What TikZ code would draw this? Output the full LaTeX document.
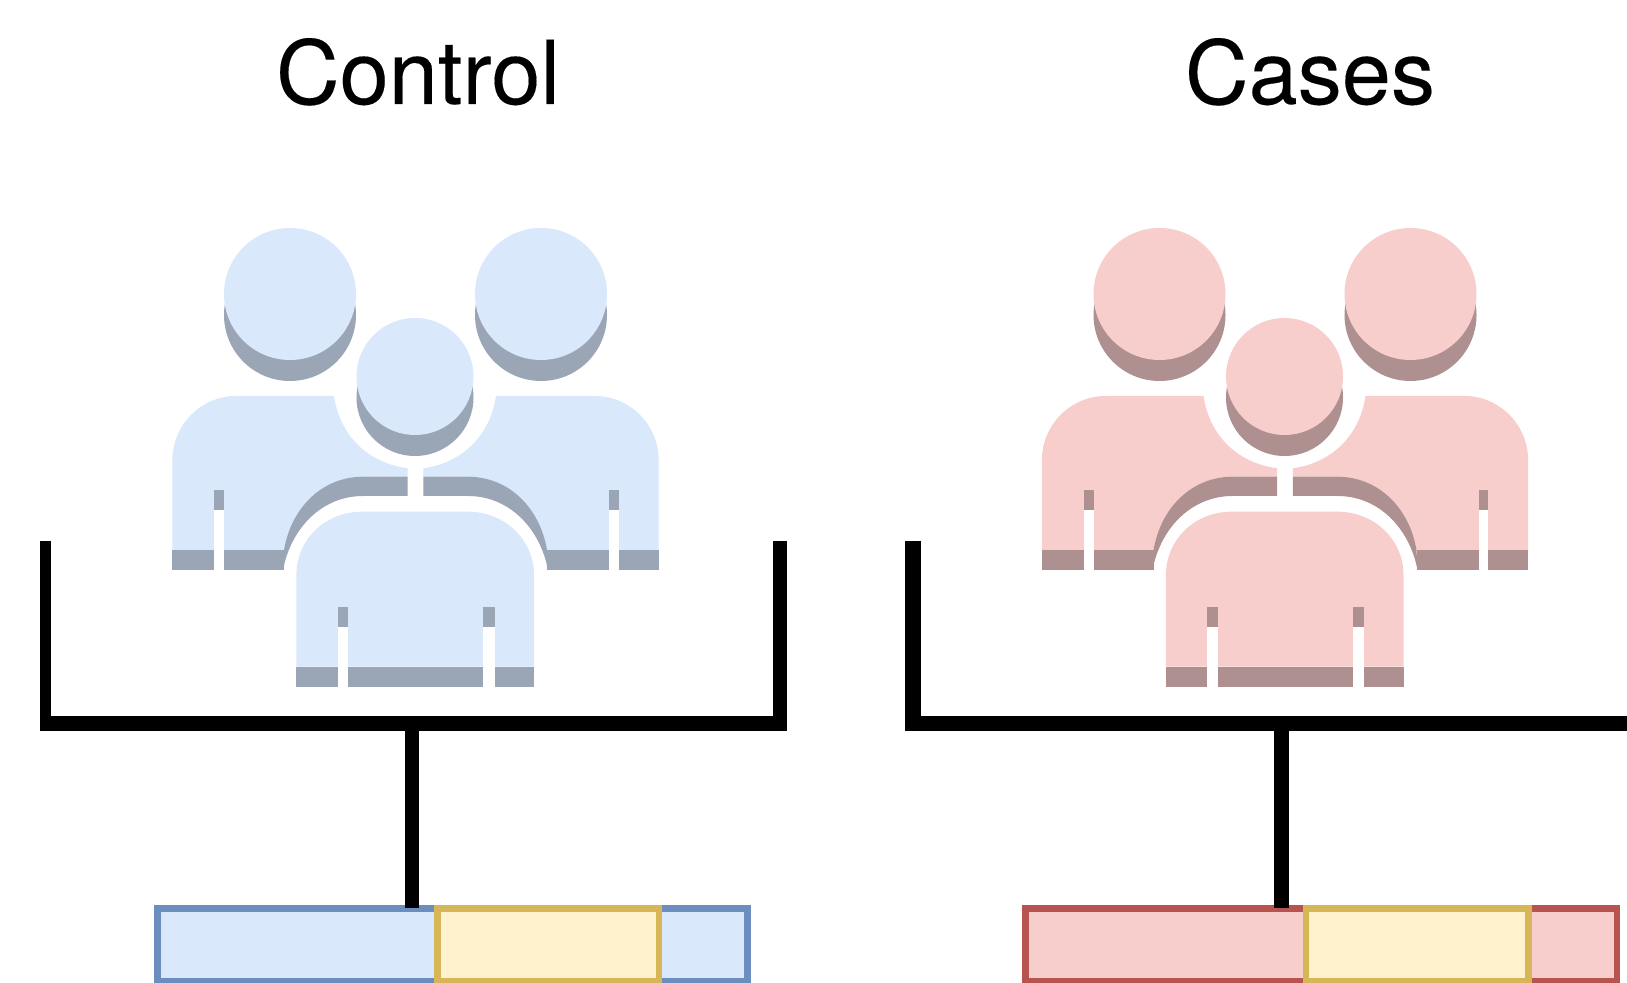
\documentclass[tikz,border=0pt]{standalone}
\usepackage{fontspec}
\setmainfont[FakeBold=0.15]{TeX Gyre Heros}
\newcommand{\peopleicon}[3]{%
% #1 xshift, #2 light, #3 shadow
\begin{scope}[xshift=#1]
  % heads
  \fill[#3] (290,315) circle[radius=66];
  \fill[#2] (290,294) circle[radius=66];
  \fill[#3] (541,315) circle[radius=66];
  \fill[#2] (541,294) circle[radius=66];
  \fill[#3] (415,397.5) circle[radius=58.5];
  \fill[#2] (415,376.5) circle[radius=58.5];
  % left back body
  \fill[#2] (172.4,550) -- (172.4,460) .. controls (172.4,425) and (201,396) .. (236,396)
    -- (334,396) .. controls (340,436) and (368,463) .. (407.6,468.3)
    -- (407.6,476.7) -- (363,476.7) .. controls (322,476.7) and (291,508) .. (284,550) -- cycle;
  \fill[#3] (407.6,476.7) -- (407.6,496) -- (363,496) .. controls (322,496) and (291,528) .. (283,570)
    -- (284,550) .. controls (291,508) and (322,476.7) .. (363,476.7) -- cycle;
  \fill[#3] (172.4,550) rectangle (214,570);
  \fill[#3] (224,550) rectangle (284,570);
  \fill[#3] (214,490) rectangle (224,510);
  \fill[white] (214,510) rectangle (224,570);
  % right back body
  \fill[#2] (658.6,550) -- (658.6,460) .. controls (658.6,425) and (630,396) .. (595,396)
    -- (496,396) .. controls (490,436) and (462,463) .. (423.4,468.3)
    -- (423.4,476.7) -- (468,476.7) .. controls (509,476.7) and (540,508) .. (547,550) -- cycle;
  \fill[#3] (423.4,476.7) -- (423.4,496) -- (468,496) .. controls (509,496) and (540,528) .. (548,570)
    -- (547,550) .. controls (540,508) and (509,476.7) .. (468,476.7) -- cycle;
  \fill[#3] (547,550) rectangle (609,570);
  \fill[#3] (618.7,550) rectangle (658.6,570);
  \fill[#3] (609,490) rectangle (618.7,510);
  \fill[white] (609,510) rectangle (618.7,570);
  % front body
  \fill[#2] (296.4,666.7) -- (296.4,575) .. controls (296.4,540) and (325,511.7) .. (362,511.7)
    -- (468,511.7) .. controls (505,511.7) and (534,540) .. (534,575) -- (534,666.7) -- cycle;
  \fill[#3] (296.4,666.7) rectangle (337.7,686.7);
  \fill[#3] (348.3,666.7) rectangle (483.3,686.7);
  \fill[#3] (494.8,666.7) rectangle (534,686.7);
  \fill[#3] (337.7,607.3) rectangle (348.3,627.3);
  \fill[#3] (483.3,607.3) rectangle (494.8,627.3);
  \fill[white] (337.7,627.3) rectangle (348.3,686.7);
  \fill[white] (483.3,627.3) rectangle (494.8,686.7);
\end{scope}}
\definecolor{lblue}{HTML}{DAE8FC}
\definecolor{sblue}{HTML}{9AA5B6}
\definecolor{bblue}{HTML}{6C8EBF}
\definecolor{lred}{HTML}{F8CECC}
\definecolor{sred}{HTML}{AF9090}
\definecolor{bred}{HTML}{B85450}
\definecolor{lyel}{HTML}{FFF2CC}
\definecolor{byel}{HTML}{D6B656}
\tikzset{
  title/.style={font=\fontsize{25.1pt}{28pt}\selectfont, anchor=base, inner sep=0},
  barbox/.style={draw, line width=0.066cm, inner sep=0, outer sep=0, minimum height=0.73cm},
  brace/.style={draw=black, line cap=butt},
}
\begin{document}
\begin{tikzpicture}[x=0.01cm,y=-0.01cm]
\useasboundingbox (0,0) rectangle (1627,983);
\fill[white] (0,0) rectangle (1627,983);
\node[title] (tctrl) at (418,104) {Control};
\node[title] (tcase) at (1310,104) {Cases};
\peopleicon{0cm}{lblue}{sblue}
\peopleicon{8.69cm}{lred}{sred}
% bottom boxes
\node[barbox, draw=bblue, fill=lblue, minimum width=5.9cm] (cbar) at (452.5,945) {};
\node[barbox, draw=byel, fill=lyel, minimum width=2.213cm] (cyel) at (548.3,945) {};
\node[barbox, draw=bred, fill=lred, minimum width=5.91cm] (rbar) at (1321.4,945) {};
\node[barbox, draw=byel, fill=lyel, minimum width=2.227cm] (ryel) at (1417.3,945) {};
% brackets
\coordinate (cl) at (45.4,540.6);
\coordinate (cr) at (780.2,540.6);
\coordinate (cbl) at (39.8,723.2);
\coordinate (cbr) at (787,723.2);
\coordinate (cs) at (411.8,723.2);
\draw[brace, line width=0.112cm] (cl) -- (cl |- cbl);
\draw[brace, line width=0.14cm] (cr) -- (cr |- cbr);
\draw[brace, line width=0.15cm] (cbl) -- (cbr);
\draw[brace, line width=0.145cm] (cs) -- (cs |- cbar.north);
\coordinate (rl) at (912.8,540.6);
\coordinate (rbl) at (905,723.2);
\coordinate (rbr) at (1627,723.2);
\coordinate (rs) at (1281.4,723.2);
\draw[brace, line width=0.155cm] (rl) -- (rl |- rbl);
\draw[brace, line width=0.15cm] (rbl) -- (rbr);
\draw[brace, line width=0.148cm] (rs) -- (rs |- rbar.north);
\end{tikzpicture}
\end{document}
